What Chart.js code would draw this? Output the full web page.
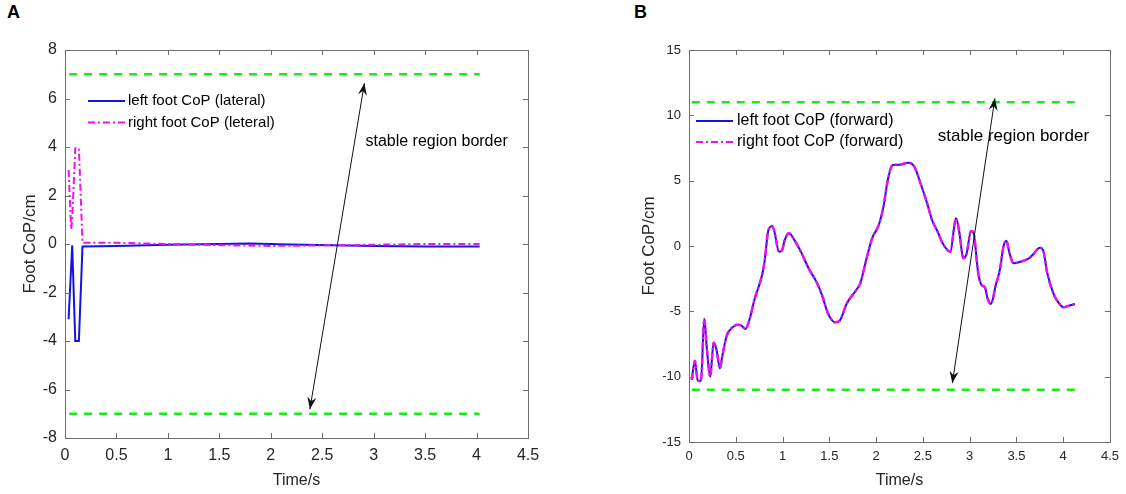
<!DOCTYPE html>
<html>
<head>
  <meta charset="utf-8">
  <title>Foot CoP</title>
  <script src="https://cdn.jsdelivr.net/npm/chart.js"></script>
  <style>
    body { margin: 0; background: #fff; width: 1126px; height: 494px; position: relative; overflow: hidden; }
    .panel { position: absolute; top: 0; }
    .tag { position: absolute; top: 2px; font: bold 18px "Liberation Sans", Arial, sans-serif; color: #000; }
  </style>
</head>
<body>
  <div class="tag" style="left:7px">A</div>
  <div class="tag" style="left:634px">B</div>
  <canvas id="chartA" class="panel" style="left:0" width="563" height="494"></canvas>
  <canvas id="chartB" class="panel" style="left:563px" width="563" height="494"></canvas>

  <script>
    // panel A: lateral CoP
    const aTimeLeft = [0.035, 0.07, 0.10, 0.135, 0.17, 0.5, 1.0, 1.5, 1.8, 2.2, 2.6, 3.0, 3.5, 4.03];
    const aLeft = [-3.1, -0.05, -4.0, -4.0, -0.1, -0.08, -0.03, 0.0, 0.02, -0.02, -0.05, -0.08, -0.1, -0.1];
    const aTimeRight = [0.035, 0.06, 0.07, 0.10, 0.135, 0.17, 0.5, 1.0, 1.5, 2.0, 2.5, 3.0, 3.5, 4.03];
    const aRight = [3.05, 0.6, 1.0, 3.95, 3.95, 0.05, 0.05, 0.0, -0.05, -0.08, -0.06, -0.03, 0.0, 0.0];
    const aBorderTime = [0.04, 4.03];
    const aBorder = [7, -7];

    // panel B: forward CoP
    const bTime = [0.029, 0.064, 0.093, 0.128, 0.163, 0.192, 0.227, 0.263, 0.295, 0.330,
      0.355, 0.402, 0.437, 0.526, 0.562, 0.604, 0.640, 0.704, 0.781, 0.810,
      0.845, 0.888, 0.909, 0.963, 0.995, 1.023, 1.069, 1.130, 1.201, 1.279,
      1.361, 1.415, 1.485, 1.52, 1.557, 1.610, 1.688, 1.788, 1.831, 1.894,
      1.958, 2.029, 2.079, 2.125, 2.178, 2.249, 2.342, 2.409, 2.481, 2.551,
      2.598, 2.658, 2.711, 2.793, 2.854, 2.889, 2.932, 2.967, 3.014, 3.038,
      3.092, 3.127, 3.163, 3.191, 3.227, 3.280, 3.326, 3.361, 3.393, 3.422,
      3.468, 3.547, 3.635, 3.689, 3.749, 3.785, 3.830, 3.902, 3.955, 4.001,
      4.062, 4.126];
    const bLeft = [-10.25, -8.78, -10.31, -10.33, -5.59, -7.96, -10.0, -7.40, -7.96, -9.36,
      -8.47, -6.89, -6.43, -6.02, -6.10, -6.35, -5.79, -4.00, -2.22, -1.07,
      1.09, 1.53, 1.22, -0.44, -0.31, 0.46, 0.97, 0.41, -0.51, -1.71,
      -2.73, -3.62, -5.15, -5.6, -5.84, -5.72, -4.38, -3.37, -2.85, -1.07,
      0.59, 1.61, 3.01, 5.05, 6.20, 6.22, 6.37, 6.07, 4.67, 3.14,
      1.99, 1.09, 0.21, -0.44, 2.12, 1.09, -0.94, -0.61, 1.15, 1.09,
      -2.09, -2.98, -3.16, -4.00, -4.44, -2.98, -1.71, -0.05, 0.41, -0.44,
      -1.32, -1.20, -0.94, -0.56, -0.13, -0.31, -2.09, -3.75, -4.38, -4.69,
      -4.57, -4.44];
    const bRight = [-10.25, -8.78, -10.31, -10.33, -5.59, -7.96, -10.0, -7.40, -7.96, -9.36,
      -8.47, -6.89, -6.43, -6.02, -6.10, -6.35, -5.79, -4.00, -2.22, -1.07,
      1.09, 1.53, 1.22, -0.44, -0.31, 0.46, 0.97, 0.41, -0.51, -1.71,
      -2.73, -3.62, -5.15, -5.6, -5.84, -5.72, -4.38, -3.37, -2.85, -1.07,
      0.59, 1.61, 3.01, 5.05, 6.20, 6.22, 6.37, 6.07, 4.67, 3.14,
      1.99, 1.09, 0.21, -0.44, 2.12, 1.09, -0.94, -0.61, 1.15, 1.09,
      -2.09, -2.98, -3.16, -4.00, -4.44, -2.98, -1.71, -0.05, 0.41, -0.44,
      -1.32, -1.20, -0.94, -0.56, -0.13, -0.31, -2.09, -3.75, -4.38, -4.69,
      -4.57, -4.44];
    const bBorderTime = [0.03, 4.13];
    const bBorder = [11, -11];

    const FONT = '"Liberation Sans", Arial, sans-serif';
    const AXIS = '#6e6e6e';
    const TEXT = '#262626';
    const BLUE = '#1414e0';
    const MAGENTA = '#ee11ee';
    const GREEN = '#19eb19';

    Chart.defaults.font.family = FONT;

    const pts = (xs, ys) => xs.map((t, i) => ({ x: t, y: ys[i] }));
    const plain = v => String(Number(v.toFixed(2)));

    // box with inward ticks on all four sides
    const frame = {
      id: 'frame',
      afterDatasetsDraw(chart) {
        const { ctx, chartArea: a, scales: { x, y } } = chart;
        ctx.save();
        ctx.strokeStyle = AXIS;
        ctx.lineWidth = 1;
        ctx.setLineDash([]);
        ctx.strokeRect(a.left + 0.5, a.top + 0.5, a.right - a.left, a.bottom - a.top);
        ctx.beginPath();
        x.ticks.forEach(t => {
          const px = Math.round(x.getPixelForValue(t.value)) + 0.5;
          ctx.moveTo(px, a.bottom); ctx.lineTo(px, a.bottom - 5);
          ctx.moveTo(px, a.top); ctx.lineTo(px, a.top + 5);
        });
        y.ticks.forEach(t => {
          const py = Math.round(y.getPixelForValue(t.value)) + 0.5;
          ctx.moveTo(a.left, py); ctx.lineTo(a.left + 5, py);
          ctx.moveTo(a.right, py); ctx.lineTo(a.right - 5, py);
        });
        ctx.stroke();
        ctx.restore();
      }
    };

    function arrowHead(ctx, tx, ty, fx, fy) {
      const ang = Math.atan2(ty - fy, tx - fx);
      const len = 12, half = 4.5, notch = 8;
      ctx.save();
      ctx.translate(tx, ty);
      ctx.rotate(ang);
      ctx.beginPath();
      ctx.moveTo(0, 0);
      ctx.lineTo(-len, -half);
      ctx.lineTo(-notch, 0);
      ctx.lineTo(-len, half);
      ctx.closePath();
      ctx.fill();
      ctx.restore();
    }

    // legend, double arrow and label
    const notes = {
      id: 'notes',
      afterDraw(chart, args, opts) {
        const { ctx, chartArea: a, scales: { x, y } } = chart;
        ctx.save();

        const [p, q] = opts.arrow;
        const x1 = x.getPixelForValue(p[0]), y1 = y.getPixelForValue(p[1]);
        const x2 = x.getPixelForValue(q[0]), y2 = y.getPixelForValue(q[1]);
        ctx.strokeStyle = '#111';
        ctx.fillStyle = '#111';
        ctx.lineWidth = 1;
        ctx.beginPath();
        ctx.moveTo(x1, y1); ctx.lineTo(x2, y2);
        ctx.stroke();
        arrowHead(ctx, x1, y1, x2, y2);
        arrowHead(ctx, x2, y2, x1, y1);

        ctx.fillStyle = '#000';
        ctx.font = opts.noteSize + 'px ' + FONT;
        ctx.textAlign = 'left';
        ctx.textBaseline = 'middle';
        ctx.fillText(opts.note, x.getPixelForValue(opts.noteAt[0]), y.getPixelForValue(opts.noteAt[1]));

        const lg = opts.legend;
        ctx.font = lg.size + 'px ' + FONT;
        chart.data.datasets.filter(d => d.label).forEach((d, i) => {
          const ly = a.top + lg.top + i * lg.dy;
          ctx.strokeStyle = d.borderColor;
          ctx.lineWidth = 2;
          ctx.setLineDash(d.borderDash || []);
          ctx.beginPath();
          ctx.moveTo(a.left + lg.left, ly);
          ctx.lineTo(a.left + lg.left + lg.len, ly);
          ctx.stroke();
          ctx.fillStyle = '#000';
          ctx.fillText(d.label, a.left + lg.text, ly);
        });
        ctx.restore();
      }
    };

    function makeChart(id, c) {
      const datasets = [
        { label: c.labels[0], data: c.left, borderColor: BLUE, borderWidth: 2, order: 2,
          cubicInterpolationMode: c.smooth ? 'monotone' : 'default' },
        { label: c.labels[1], data: c.right, borderColor: MAGENTA, borderWidth: c.magWidth, borderDash: [7, 3, 2, 3], order: 1,
          cubicInterpolationMode: c.smooth ? 'monotone' : 'default' }
      ];
      c.borders.forEach(b => datasets.push({
        label: '', data: b, borderColor: GREEN, borderWidth: 2.5, borderDash: [8, 7], order: 3
      }));

      return new Chart(document.getElementById(id), {
        type: 'line',
        data: { datasets },
        options: {
          responsive: false,
          animation: false,
          elements: { point: { radius: 0 }, line: { tension: 0 } },
          layout: { padding: { left: 0, top: 50, right: c.right_pad, bottom: 0 } },
          plugins: { legend: { display: false }, tooltip: { enabled: false }, notes: c.notes },
          scales: {
            x: {
              type: 'linear', min: 0, max: 4.5,
              grid: { display: false, drawTicks: false },
              border: { display: false },
              ticks: { stepSize: 0.5, padding: c.xPad, color: TEXT, font: { size: c.tickSize }, callback: plain },
              title: { display: true, text: 'Time/s', color: TEXT, font: { size: 16 }, padding: { top: 0, bottom: 4 } },
              afterFit(s) { s.height = c.xHeight; }
            },
            y: {
              min: c.yMin, max: c.yMax,
              grid: { display: false, drawTicks: false },
              border: { display: false },
              ticks: { stepSize: c.yStep, padding: 8, color: TEXT, font: { size: c.tickSize }, callback: plain },
              title: { display: true, text: 'Foot CoP/cm', color: TEXT, font: { size: 17 }, padding: { top: c.yTitlePad, bottom: 0 } },
              afterFit(s) { s.width = c.yWidth; }
            }
          }
        },
        plugins: [frame, notes]
      });
    }

    makeChart('chartA', {
      labels: ['left foot CoP (lateral)', 'right foot CoP (leteral)'],
      left: pts(aTimeLeft, aLeft),
      right: pts(aTimeRight, aRight),
      borders: aBorder.map(v => pts(aBorderTime, [v, v])),
      yMin: -8, yMax: 8, yStep: 2, smooth: false, magWidth: 2,
      tickSize: 16, xPad: 8, xHeight: 56, yWidth: 65, yTitlePad: 20, right_pad: 35,
      notes: {
        arrow: [[2.38, -6.81], [2.91, 6.63]],
        note: 'stable region border', noteAt: [2.92, 4.22], noteSize: 16,
        legend: { size: 15, left: 23, len: 37, text: 63, top: 51, dy: 21.5 }
      }
    });

    makeChart('chartB', {
      labels: ['left foot CoP (forward)', 'right foot CoP (forward)'],
      left: pts(bTime, bLeft),
      right: pts(bTime, bRight),
      borders: bBorder.map(v => pts(bBorderTime, [v, v])),
      yMin: -15, yMax: 15, yStep: 5, smooth: true, magWidth: 2.5,
      tickSize: 13, xPad: 7, xHeight: 52, yWidth: 126, yTitlePad: 76, right_pad: 15,
      notes: {
        arrow: [[2.815, -10.5], [3.27, 11.3]],
        note: 'stable region border', noteAt: [2.66, 8.42], noteSize: 17,
        legend: { size: 16, left: 7, len: 37, text: 48, top: 71, dy: 21 }
      }
    });
  </script>
</body>
</html>
